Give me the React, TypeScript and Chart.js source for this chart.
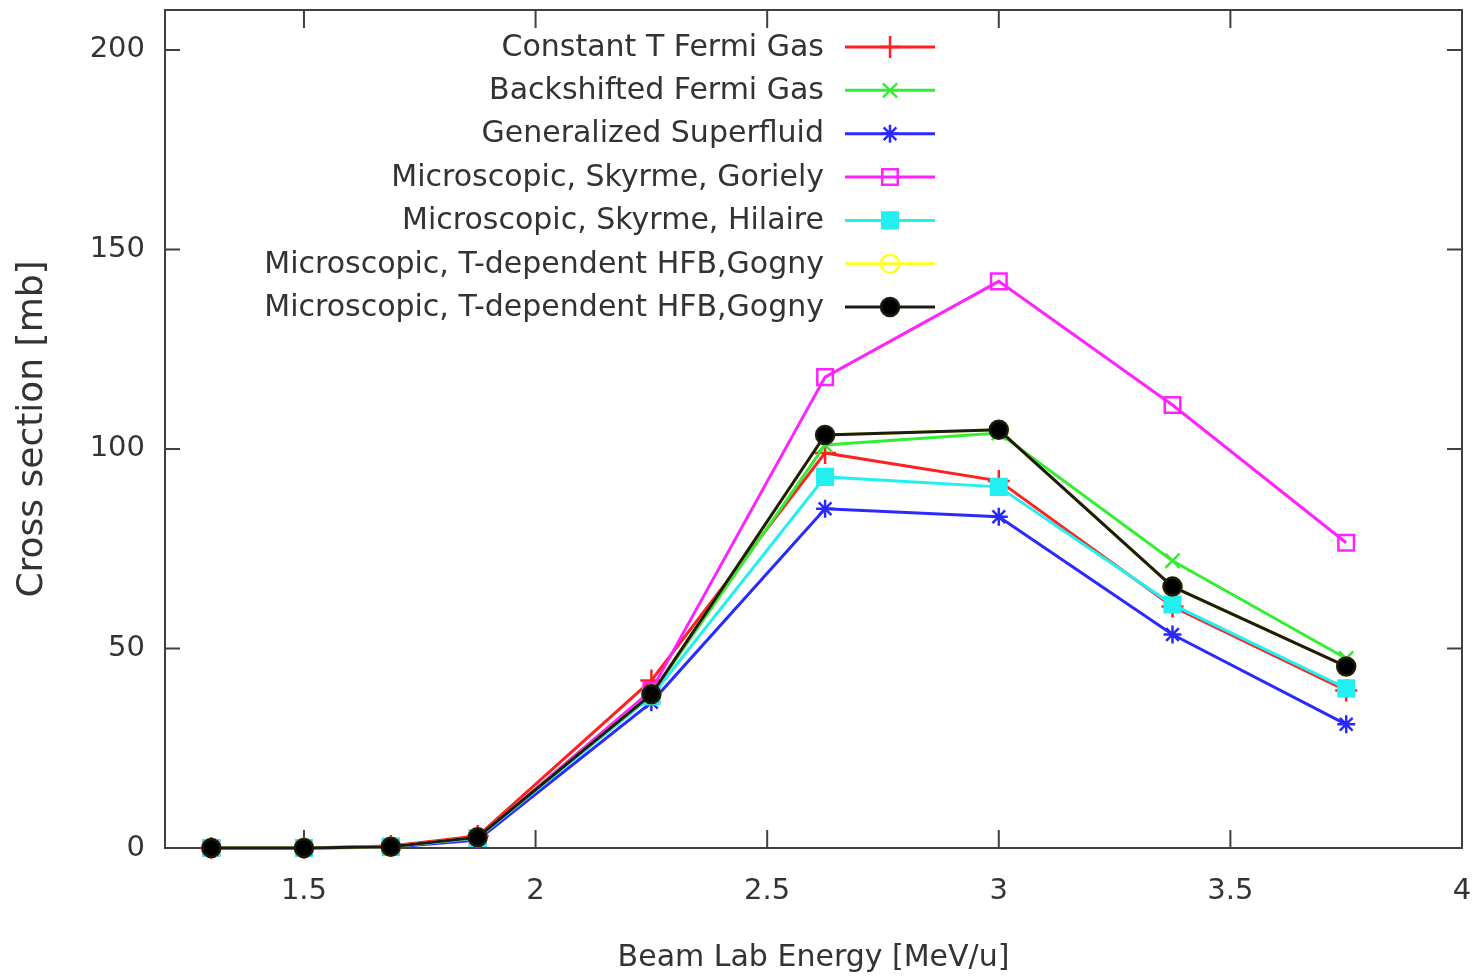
import React, { useEffect, useRef } from 'react';
import { Chart, registerables } from 'chart.js';
import { drawPoint } from 'chart.js/helpers';

Chart.register(...registerables);

// ---- data ----
const energies = [1.3, 1.5, 1.6875, 1.875, 2.25, 2.625, 3.0, 3.375, 3.75];
const constantT = [0, 0, 0.5, 3, 42, 99, 92, 60.5, 39.5];
const backshifted = [0, 0, 0.3, 2.5, 38.5, 101, 104, 72, 47.5];
const genSuperfluid = [0, 0, 0.2, 2, 36.5, 85, 83, 53.5, 31];
const skyrmeGoriely = [0, 0, 0.3, 2.5, 39.5, 118, 142, 111, 76.5];
const skyrmeHilaire = [0, 0, 0.3, 2.5, 38, 93, 90.5, 61, 40];
const hfbGognyA = [0, 0, 0.3, 2.7, 38.5, 103.5, 104.8, 65.5, 45.5];
const hfbGognyB = [0, 0, 0.3, 2.7, 38.5, 103.5, 104.8, 65.5, 45.5];

const seriesLabels = [
  'Constant T Fermi Gas',
  'Backshifted Fermi Gas',
  'Generalized Superfluid',
  'Microscopic, Skyrme, Goriely',
  'Microscopic, Skyrme, Hilaire',
  'Microscopic, T-dependent HFB,Gogny',
  'Microscopic, T-dependent HFB,Gogny',
];
const seriesValues = [constantT, backshifted, genSuperfluid, skyrmeGoriely, skyrmeHilaire, hfbGognyA, hfbGognyB];

const xTicks = [1.5, 2, 2.5, 3, 3.5, 4];
const yTicks = [0, 50, 100, 150, 200];
const xTitle = 'Beam Lab Energy [MeV/u]';
const yTitle = 'Cross section [mb]';

// ---- styles ----
const colors = ['#ff2020', '#33ee33', '#2a2aff', '#ff22ff', '#22f0f0', '#ffff22', '#1c1c14'];
const pointStyles = ['cross', 'crossRot', 'star', 'rect', 'rect', 'circle', 'circle'];
const pointFills = ['#ff2020', '#33ee33', '#2a2aff', 'rgba(0,0,0,0)', '#22f0f0', 'rgba(0,0,0,0)', '#000000'];
const pointRadii = [11, 10, 9, 11, 11, 9, 9];
const textColor = '#333333';
const FONT = '"DejaVu Sans", sans-serif';

const framePlugin = {
  id: 'frame',
  beforeDatasetsDraw(chart: any) {
    const { ctx, chartArea } = chart;
    const { left, right, top, bottom } = chartArea;
    const xs = chart.scales.x;
    const ys = chart.scales.y;
    ctx.save();
    ctx.strokeStyle = '#404040';
    ctx.lineWidth = 2;
    ctx.strokeRect(left, top, right - left, bottom - top);
    ctx.beginPath();
    yTicks.forEach((v) => {
      const p = ys.getPixelForValue(v);
      ctx.moveTo(left, p);
      ctx.lineTo(left + 15, p);
      ctx.moveTo(right, p);
      ctx.lineTo(right - 15, p);
    });
    xTicks.forEach((v) => {
      const p = xs.getPixelForValue(v);
      ctx.moveTo(p, bottom);
      ctx.lineTo(p, bottom - 18);
      ctx.moveTo(p, top);
      ctx.lineTo(p, top + 18);
    });
    ctx.stroke();
    ctx.restore();
  },
};

const legendPlugin = {
  id: 'gnuLegend',
  afterDraw(chart: any) {
    const { ctx } = chart;
    const textRight = 824;
    const lineX0 = 845;
    const lineX1 = 935;
    const y0 = 47;
    const dy = 43.35;
    ctx.save();
    chart.data.datasets.forEach((ds: any, i: number) => {
      const y = y0 + i * dy;
      ctx.font = `30px ${FONT}`;
      ctx.fillStyle = textColor;
      ctx.textAlign = 'right';
      ctx.textBaseline = 'middle';
      ctx.fillText(ds.label, textRight, y + 1);
      ctx.strokeStyle = ds.borderColor;
      ctx.lineWidth = 3;
      ctx.beginPath();
      ctx.moveTo(lineX0, y);
      ctx.lineTo(lineX1, y);
      ctx.stroke();
      ctx.strokeStyle = ds.pointBorderColor;
      ctx.fillStyle = ds.pointBackgroundColor;
      ctx.lineWidth = ds.pointBorderWidth;
      drawPoint(ctx, { pointStyle: ds.pointStyle, radius: ds.pointRadius, rotation: 0, borderWidth: ds.pointBorderWidth }, (lineX0 + lineX1) / 2, y);
    });
    ctx.restore();
  },
};

export default function App() {
  const ref = useRef<HTMLCanvasElement | null>(null);
  useEffect(() => {
    if (!ref.current) return;
    const datasets = seriesValues.map((vals, i) => ({
      label: seriesLabels[i],
      data: energies.map((x, j) => ({ x, y: vals[j] })),
      borderColor: colors[i],
      backgroundColor: colors[i],
      borderWidth: 3,
      pointStyle: pointStyles[i],
      pointRadius: pointRadii[i],
      pointBorderWidth: 2.5,
      pointBorderColor: colors[i],
      pointBackgroundColor: pointFills[i],
      order: seriesValues.length - 1 - i,
      clip: false,
      tension: 0,
    }));
    const chart = new Chart(ref.current, {
      type: 'line',
      data: { datasets } as any,
      plugins: [framePlugin, legendPlugin],
      options: {
        animation: false,
        responsive: false,
        devicePixelRatio: 1,
        layout: { autoPadding: false, padding: { left: 0, top: 10, right: 18, bottom: 0 } },
        plugins: { legend: { display: false }, tooltip: { enabled: false } },
        scales: {
          x: {
            type: 'linear',
            min: 1.2,
            max: 4,
            grid: { display: false, drawTicks: false },
            border: { display: false },
            afterBuildTicks: (s: any) => {
              s.ticks = xTicks.map((v) => ({ value: v }));
            },
            afterFit: (s: any) => {
              s.height = 132;
              s.paddingLeft = 0;
              s.paddingRight = 0;
              s.paddingTop = 0;
              s.paddingBottom = 0;
            },
            ticks: {
              padding: 26,
              color: textColor,
              font: { family: FONT, size: 29 },
              maxRotation: 0,
              callback: (v: any) => String(v),
            },
            title: {
              display: true,
              text: xTitle,
              color: textColor,
              font: { family: FONT, size: 30 },
              padding: { top: 0, bottom: 4 },
            },
          },
          y: {
            type: 'linear',
            min: 0,
            max: 210,
            grid: { display: false, drawTicks: false },
            border: { display: false },
            afterBuildTicks: (s: any) => {
              s.ticks = yTicks.map((v) => ({ value: v }));
            },
            afterFit: (s: any) => {
              s.width = 165;
              s.paddingLeft = 0;
              s.paddingRight = 0;
              s.paddingTop = 0;
              s.paddingBottom = 0;
            },
            ticks: {
              padding: 20,
              color: textColor,
              font: { family: FONT, size: 29 },
              callback: (v: any) => String(v),
            },
            title: {
              display: true,
              text: yTitle,
              color: textColor,
              font: { family: FONT, size: 36 },
              padding: { top: 11, bottom: 0 },
            },
          },
        },
      } as any,
    });
    return () => chart.destroy();
  }, []);
  return (
    <canvas
      ref={ref}
      width={1480}
      height={980}
      style={{ position: 'fixed', left: 0, top: 0, width: 1480, height: 980, display: 'block', background: '#fff' }}
    />
  );
}
